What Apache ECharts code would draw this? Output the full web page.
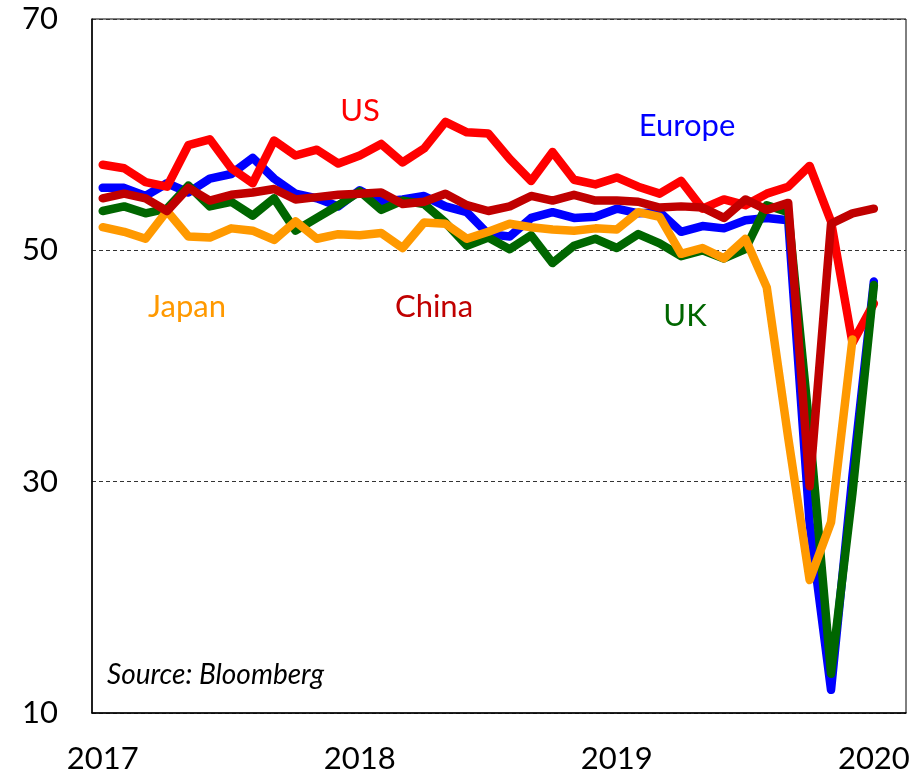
<!DOCTYPE html>
<html>
<head>
<meta charset="utf-8">
<script src="https://cdn.jsdelivr.net/npm/echarts@6/dist/echarts.min.js"></script>
<style>
  html, body { margin: 0; padding: 0; background: #fff; }
  #main { width: 920px; height: 777px; }
</style>
</head>
<body>
<div id="main"></div>
<script>
// month slots on the x axis, year label every 12 slots
var years = ['2017', '2018', '2019', '2020'];
var slotCount = 38;

// PMI readings, one per slot
var usData = [57.4, 57.1, 55.9, 55.5, 59.1, 59.6, 57.1, 55.8, 59.5, 58.2, 58.7, 57.5, 58.2, 59.2, 57.6, 58.8, 61.1, 60.2, 60.1, 57.9, 56.0, 58.5, 56.1, 55.7, 56.3, 55.5, 54.9, 56.0, 53.6, 54.4, 53.9, 54.9, 55.5, 57.3, 52.5, 42.0, 45.4];
var europeData = [55.4, 55.4, 54.7, 55.8, 55.0, 56.2, 56.6, 58.0, 56.2, 54.9, 54.5, 53.8, 55.2, 54.2, 54.4, 54.7, 53.8, 53.3, 51.4, 51.2, 52.8, 53.3, 52.8, 52.9, 53.6, 53.2, 53.3, 51.6, 52.1, 51.9, 52.6, 52.8, 52.6, 26.4, 12.0, 30.5, 47.3];
var ukData = [53.4, 53.8, 53.2, 53.6, 55.6, 53.8, 54.2, 53.0, 54.5, 51.7, 52.8, 53.9, 55.1, 53.5, 54.3, 54.0, 52.4, 50.4, 51.1, 50.1, 51.3, 48.9, 50.4, 51.0, 50.2, 51.4, 50.6, 49.5, 50.0, 49.3, 50.1, 53.9, 53.3, 34.5, 13.4, 29.0, 47.0];
var japanData = [52.0, 51.6, 51.0, 53.4, 51.2, 51.1, 51.9, 51.7, 50.9, 52.5, 51.0, 51.4, 51.3, 51.5, 50.2, 52.4, 52.3, 51.0, 51.6, 52.3, 52.0, 51.8, 51.7, 51.9, 51.8, 53.3, 52.9, 49.7, 50.2, 49.3, 51.0, 46.8, 33.8, 21.5, 26.5, 42.3];
var chinaData = [54.5, 54.9, 54.5, 53.4, 55.4, 54.3, 54.8, 55.0, 55.3, 54.4, 54.6, 54.8, 54.9, 55.0, 54.0, 54.2, 54.9, 53.9, 53.4, 53.8, 54.7, 54.3, 54.8, 54.3, 54.3, 54.2, 53.7, 53.8, 53.7, 52.8, 54.4, 53.5, 54.1, 29.6, 52.3, 53.2, 53.6];

var slots = [];
for (var i = 0; i < slotCount; i++) {
    slots.push(i % 12 === 0 ? years[i / 12] : 's' + i);
}

var FONT = 'Lato, "Liberation Sans", sans-serif';

function lineSeries(name, data, color) {
    return {
        name: name,
        type: 'line',
        data: data,
        symbol: 'none',
        lineStyle: { color: color, width: 8.5, cap: 'round', join: 'round' }
    };
}

function label(text, x, y, color) {
    return {
        type: 'text',
        x: x,
        y: y,
        style: {
            text: text,
            fill: color,
            fontSize: 31,
            fontFamily: FONT,
            align: 'center',
            verticalAlign: 'middle'
        }
    };
}

var option = {
    animation: false,
    backgroundColor: '#fff',
    grid: {
        left: 92,
        top: 19,
        right: 14,
        bottom: 64,
        show: true,
        borderColor: '#000',
        borderWidth: 1
    },
    xAxis: {
        type: 'category',
        data: slots,
        boundaryGap: true,
        axisLine: { lineStyle: { color: '#000', width: 1.5 } },
        axisTick: {
            inside: true,
            length: 8,
            lineStyle: { color: '#000' },
            interval: function (index) { return index % 12 === 0; }
        },
        axisLabel: {
            interval: function (index) { return index % 12 === 0; },
            color: '#000',
            fontSize: 31,
            fontFamily: FONT,
            margin: 30
        },
        splitLine: { show: false }
    },
    yAxis: {
        type: 'value',
        min: 10,
        max: 70,
        interval: 20,
        axisLine: { show: true, lineStyle: { color: '#000', width: 1.5 } },
        axisTick: { show: false },
        axisLabel: {
            color: '#000',
            fontSize: 31,
            fontFamily: FONT,
            margin: 34
        },
        splitLine: {
            show: true,
            lineStyle: { color: '#333', type: [4, 3], width: 1 }
        }
    },
    series: [
        lineSeries('Europe', europeData, '#0000ff'),
        lineSeries('US', usData, '#ff0000'),
        lineSeries('UK', ukData, '#006600'),
        lineSeries('Japan', japanData, '#ff9900'),
        lineSeries('China', chinaData, '#c00000')
    ],
    graphic: [
        label('US', 360, 111, '#ff0000'),
        label('Europe', 687, 126, '#0000ff'),
        label('Japan', 187, 307, '#ff9900'),
        label('China', 434, 307, '#c00000'),
        label('UK', 685, 316, '#006600'),
        {
            type: 'text',
            x: 107,
            y: 675,
            style: {
                text: 'Source: Bloomberg',
                fill: '#000',
                fontSize: 28,
                fontStyle: 'italic',
                fontFamily: FONT,
                align: 'left',
                verticalAlign: 'middle'
            }
        }
    ]
};

var myChart = echarts.init(document.getElementById('main'));
myChart.setOption(option);
</script>
</body>
</html>
